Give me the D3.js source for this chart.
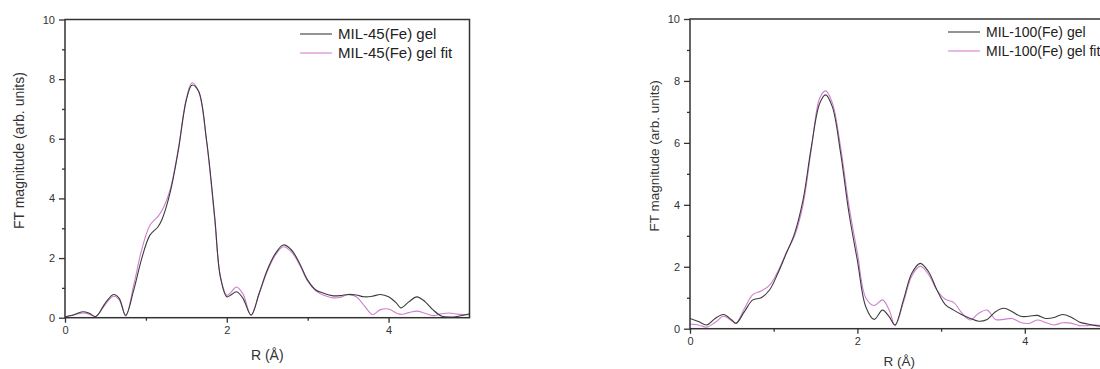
<!DOCTYPE html>
<html>
<head>
<meta charset="utf-8">
<script src="https://cdn.jsdelivr.net/npm/d3@7"></script>
<style>
  body { margin: 0; background: #fff; }
  svg { display: block; font-family: "Liberation Sans", Arial, sans-serif; }
</style>
</head>
<body>
<script>
// MIL-45(Fe) panel, R grid (Å)
const mil45R = [0, 0.1, 0.22, 0.3, 0.38, 0.5, 0.6, 0.67, 0.75, 0.85, 0.95, 1.05, 1.15, 1.2, 1.3, 1.4, 1.5, 1.57, 1.65, 1.75, 1.85, 1.92, 2.0, 2.05, 2.12, 2.2, 2.3, 2.4, 2.5, 2.6, 2.7, 2.8, 2.9, 3.0, 3.1, 3.2, 3.3, 3.4, 3.5, 3.6, 3.7, 3.8, 3.9, 4.0, 4.1, 4.15, 4.25, 4.35, 4.45, 4.55, 4.65, 4.75, 4.85, 5.0];
const mil45Gel = [0.03, 0.09, 0.2, 0.15, 0.04, 0.5, 0.78, 0.65, 0.08, 0.93, 2.0, 2.77, 3.05, 3.3, 4.2, 5.6, 7.3, 7.8, 7.6, 5.95, 3.4, 1.37, 0.7, 0.76, 0.87, 0.65, 0.09, 0.82, 1.6, 2.15, 2.44, 2.27, 1.82, 1.26, 0.93, 0.82, 0.74, 0.74, 0.78, 0.76, 0.7, 0.72, 0.78, 0.7, 0.48, 0.33, 0.53, 0.7, 0.54, 0.26, 0.06, 0.02, 0.04, 0.13];
const mil45Fit = [0.02, 0.08, 0.16, 0.12, 0.04, 0.45, 0.72, 0.6, 0.06, 1.1, 2.3, 3.1, 3.4, 3.6, 4.3, 5.65, 7.35, 7.88, 7.6, 5.9, 3.3, 1.4, 0.75, 0.85, 1.03, 0.8, 0.08, 0.8, 1.55, 2.1, 2.38, 2.2, 1.78, 1.22, 0.9, 0.75, 0.67, 0.68, 0.77, 0.7, 0.4, 0.11, 0.27, 0.29, 0.15, 0.11, 0.17, 0.22, 0.15, 0.07, 0.13, 0.16, 0.12, 0.1];

// MIL-100(Fe) panel
const mil100R = [0, 0.1, 0.2, 0.3, 0.4, 0.5, 0.55, 0.65, 0.75, 0.85, 0.95, 1.05, 1.15, 1.25, 1.35, 1.45, 1.55, 1.62, 1.7, 1.8, 1.9, 2.0, 2.1, 2.2, 2.3, 2.38, 2.45, 2.55, 2.65, 2.75, 2.85, 2.95, 3.05, 3.15, 3.25, 3.35, 3.45, 3.55, 3.65, 3.75, 3.85, 3.95, 4.05, 4.15, 4.25, 4.35, 4.45, 4.55, 4.65, 4.75, 4.85, 5.0];
const mil100Gel = [0.33, 0.23, 0.12, 0.33, 0.46, 0.28, 0.17, 0.55, 0.93, 1.0, 1.25, 1.79, 2.43, 3.08, 4.15, 5.88, 7.28, 7.55, 7.17, 5.66, 3.72, 2.2, 0.71, 0.3, 0.6, 0.39, 0.12, 0.93, 1.79, 2.11, 1.84, 1.25, 0.78, 0.6, 0.45, 0.33, 0.24, 0.3, 0.55, 0.66, 0.55, 0.4, 0.4, 0.43, 0.33, 0.36, 0.46, 0.38, 0.22, 0.15, 0.1, 0.04];
const mil100Fit = [0.15, 0.12, 0.05, 0.2, 0.4, 0.25, 0.18, 0.65, 1.1, 1.22, 1.4, 1.85, 2.45, 3.0, 4.0, 5.8, 7.45, 7.68, 7.3, 5.85, 3.95, 2.45, 1.0, 0.75, 0.93, 0.6, 0.1, 0.85, 1.7, 2.02, 1.75, 1.25, 0.95, 0.85, 0.5, 0.28, 0.5, 0.6, 0.3, 0.3, 0.33, 0.2, 0.17, 0.28, 0.2, 0.12, 0.19, 0.18, 0.1, 0.1, 0.12, 0.06];

const xMajor = [0, 2, 4], xMinor = [1, 3];
const yMajor = [0, 2, 4, 6, 8, 10], yMinor = [1, 3, 5, 7, 9];

const panels = [
  { id: "p45", left: 65, right: 469.5, top: 19.5, bottom: 317.7, r: mil45R, gel: mil45Gel, fit: mil45Fit,
    names: ["MIL-45(Fe) gel", "MIL-45(Fe) gel fit"], legendX: 300, legendY: 34, legendFont: 15, yLabelX: 19, xLabelY: 360, labelFont: 14 },
  { id: "p100", left: 690, right: 1108.5, top: 19, bottom: 328.7, r: mil100R, gel: mil100Gel, fit: mil100Fit,
    names: ["MIL-100(Fe) gel", "MIL-100(Fe) gel fit"], legendX: 948, legendY: 32, legendFont: 14, yLabelX: 654, xLabelY: 366, labelFont: 13.5 }
];

const gelColor = "#3c3c3c", fitColor = "#cf7fcf", axisColor = "#333";

const svg = d3.select("body").append("svg").attr("width", 1100).attr("height", 369);

panels.forEach(p => {
  const x = d3.scaleLinear().domain([0, 5]).range([p.left, p.right]);
  const y = d3.scaleLinear().domain([0, 10]).range([p.bottom, p.top]);
  const g = svg.append("g");

  g.append("clipPath").attr("id", "clip-" + p.id)
    .append("rect").attr("x", p.left).attr("y", p.top)
    .attr("width", p.right - p.left).attr("height", p.bottom - p.top);

  const line = d3.line()
    .x(d => x(d[0])).y(d => y(d[1]))
    .curve(d3.curveCatmullRom.alpha(0.5));

  const series = [
    { vals: p.fit, color: fitColor },
    { vals: p.gel, color: gelColor }
  ];
  series.forEach(s => {
    g.append("path")
      .datum(p.r.map((r, i) => [r, s.vals[i]]))
      .attr("clip-path", `url(#clip-${p.id})`)
      .attr("fill", "none")
      .attr("stroke", s.color)
      .attr("stroke-width", 1.1)
      .attr("d", line);
  });

  // frame
  g.append("rect")
    .attr("x", p.left).attr("y", p.top)
    .attr("width", p.right - p.left).attr("height", p.bottom - p.top)
    .attr("fill", "none").attr("stroke", axisColor).attr("stroke-width", 1.5);

  g.append("g").attr("transform", `translate(0,${p.bottom})`)
    .call(d3.axisBottom(x).tickValues(xMajor).tickSize(5).tickPadding(4).tickSizeOuter(0).tickFormat(d3.format("d")));
  g.append("g").attr("transform", `translate(0,${p.bottom})`)
    .call(d3.axisBottom(x).tickValues(xMinor).tickSize(3).tickFormat("").tickSizeOuter(0));
  g.append("g").attr("transform", `translate(${p.left},0)`)
    .call(d3.axisLeft(y).tickValues(yMajor).tickSize(6).tickPadding(4).tickSizeOuter(0).tickFormat(d3.format("d")));
  g.append("g").attr("transform", `translate(${p.left},0)`)
    .call(d3.axisLeft(y).tickValues(yMinor).tickSize(3).tickFormat("").tickSizeOuter(0));

  g.selectAll(".domain").remove();
  g.selectAll(".tick line").attr("stroke", axisColor).attr("stroke-width", 1.3);
  g.selectAll(".tick text").attr("fill", "#333").style("font-size", "11px")
    .style("font-family", "'Liberation Sans', Arial, sans-serif");

  g.append("text")
    .attr("transform", `translate(${p.yLabelX},${(p.top + p.bottom) / 2 - 18}) rotate(-90)`)
    .attr("text-anchor", "middle").attr("dy", "0.35em")
    .attr("fill", "#333").style("font-size", p.labelFont + "px")
    .text("FT magnitude (arb. units)");

  g.append("text")
    .attr("x", x(2.5)).attr("y", p.xLabelY)
    .attr("text-anchor", "middle").attr("fill", "#333")
    .style("font-size", p.labelFont + "px")
    .text("R (Å)");

  // legend
  [gelColor, fitColor].forEach((c, i) => {
    const ly = p.legendY + i * 19;
    g.append("line")
      .attr("x1", p.legendX).attr("x2", p.legendX + 32)
      .attr("y1", ly).attr("y2", ly)
      .attr("stroke", c).attr("stroke-width", 1.1);
    g.append("text")
      .attr("x", p.legendX + 38).attr("y", ly).attr("dy", "0.35em")
      .attr("fill", "#222").style("font-size", p.legendFont + "px")
      .text(p.names[i]);
  });
});
</script>
</body>
</html>
